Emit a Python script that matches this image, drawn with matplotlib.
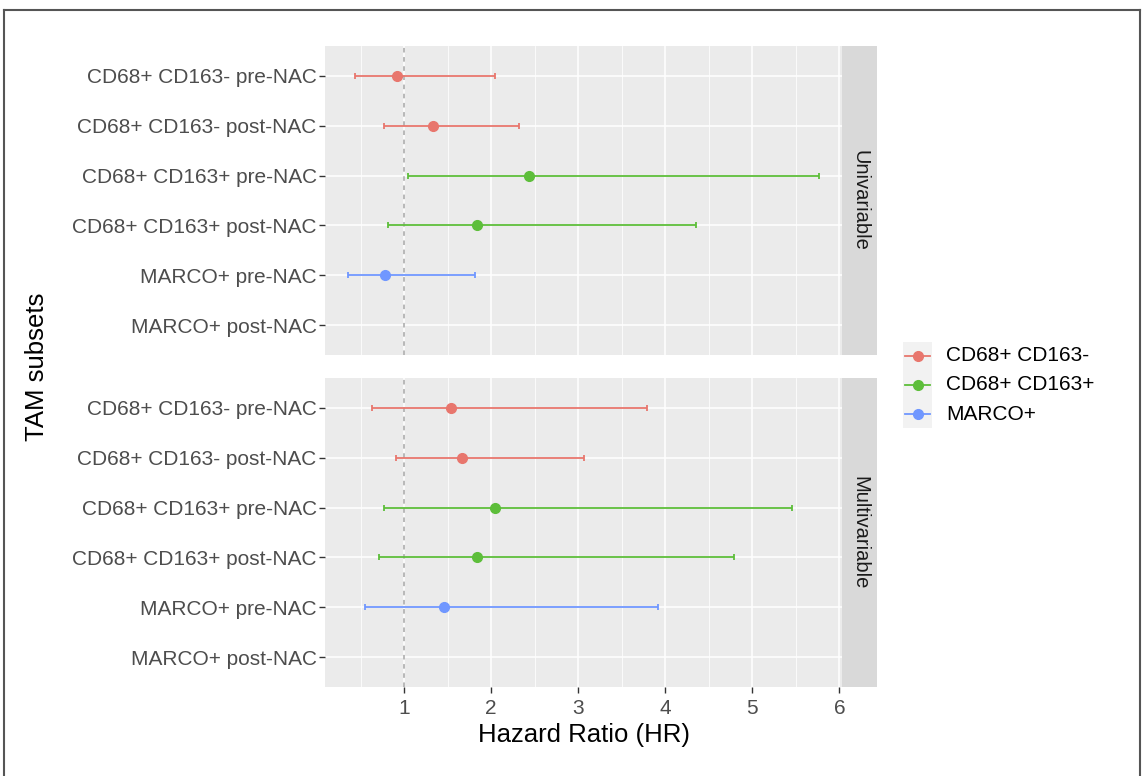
import numpy as np
import matplotlib
matplotlib.use("Agg")
import matplotlib.pyplot as plt
from matplotlib.lines import Line2D

plt.rcParams['font.family'] = ['Liberation Sans', 'DejaVu Sans']

# ---------------- data ----------------
subsets = ["CD68+ CD163- pre-NAC", "CD68+ CD163- post-NAC",
           "CD68+ CD163+ pre-NAC", "CD68+ CD163+ post-NAC",
           "MARCO+ pre-NAC", "MARCO+ post-NAC"]
groups = ["CD68+ CD163-", "CD68+ CD163-", "CD68+ CD163+",
          "CD68+ CD163+", "MARCO+", "MARCO+"]
legend_groups = ["CD68+ CD163-", "CD68+ CD163+", "MARCO+"]
group_colors = {"CD68+ CD163-": "#E8766D",
                "CD68+ CD163+": "#5DBE3A",
                "MARCO+": "#7097FF"}

panels = ["Univariable", "Multivariable"]

uni_hr = [0.92, 1.33, 2.43, 1.84, 0.78, np.nan]
uni_lo = [0.43, 0.77, 1.04, 0.81, 0.35, np.nan]
uni_hi = [2.04, 2.32, 5.77, 4.35, 1.81, np.nan]

multi_hr = [1.54, 1.66, 2.04, 1.84, 1.46, np.nan]
multi_lo = [0.63, 0.90, 0.77, 0.71, 0.55, np.nan]
multi_hi = [3.79, 3.06, 5.45, 4.79, 3.92, np.nan]

panel_data = {"Univariable": (uni_hr, uni_lo, uni_hi),
              "Multivariable": (multi_hr, multi_lo, multi_hi)}

x_ticks = [1, 2, 3, 4, 5, 6]
x_minor = [0.5, 1.5, 2.5, 3.5, 4.5, 5.5]
ref_line = 1.0

# ---------------- layout ----------------
W, H = 1144, 776
fig = plt.figure(figsize=(W / 100, H / 100), dpi=100)
fig.patch.set_facecolor("white")


def rect(x0, y0, x1, y1):
    return [x0 / W, 1 - y1 / H, (x1 - x0) / W, (y1 - y0) / H]


panel_x0, panel_x1, strip_x1 = 325, 842, 877
panel_rows = [(46, 355), (378, 687)]

TICK_FS = 15
TITLE_FS = 18.5
TEXT_COL = "#4D4D4D"

axes = []
for i, (pname, (y0, y1)) in enumerate(zip(panels, panel_rows)):
    ax = fig.add_axes(rect(panel_x0, y0, panel_x1, y1))
    ax.set_facecolor("#EBEBEB")
    for s in ax.spines.values():
        s.set_visible(False)
    hr, lo, hi = panel_data[pname]
    ypos = np.arange(len(subsets))
    ax.set_ylim(len(subsets) - 0.4, -0.6)
    ax.set_xlim(0.09, 6.03)
    ax.set_xticks(x_ticks)
    ax.set_xticks(x_minor, minor=True)
    ax.set_yticks(ypos)
    ax.set_yticklabels(subsets)
    ax.grid(True, which="major", color="white", linewidth=1.1)
    ax.grid(True, which="minor", axis="x", color="white", linewidth=0.55)
    ax.set_axisbelow(True)
    ax.tick_params(axis="both", which="major", length=4, width=1.0,
                   color="#333333", labelcolor=TEXT_COL, labelsize=TICK_FS)
    ax.tick_params(axis="y", pad=2)
    ax.tick_params(axis="x", pad=5)
    ax.tick_params(which="minor", length=0)
    if i == 0:
        ax.tick_params(axis="x", labelbottom=False, length=0)
    ax.axvline(ref_line, color="#A6A6A6", linestyle=(0, (3, 3)),
               linewidth=1.1, zorder=1.5)
    for j in range(len(subsets)):
        if np.isnan(hr[j]):
            continue
        c = group_colors[groups[j]]
        ax.errorbar([hr[j]], [ypos[j]],
                    xerr=[[hr[j] - lo[j]], [hi[j] - hr[j]]],
                    fmt="o", color=c, ecolor=c, elinewidth=1.3,
                    capsize=2.5, capthick=1.3, markersize=7, zorder=3)
    axes.append(ax)

    # facet strip
    sax = fig.add_axes(rect(panel_x1, y0, strip_x1, y1))
    sax.set_facecolor("#D9D9D9")
    sax.set_xticks([])
    sax.set_yticks([])
    for s in sax.spines.values():
        s.set_visible(False)
    sax.text(0.5, 0.5, pname, rotation=-90, ha="center", va="center",
             fontsize=14.5, color="#1A1A1A", transform=sax.transAxes)

# axis titles
fig.text((panel_x0 + panel_x1) / 2 / W, 1 - 735 / H, "Hazard Ratio (HR)",
         ha="center", va="center", fontsize=TITLE_FS, color="black")
fig.text(37 / W, 1 - 367 / H, "TAM subsets", rotation=90,
         ha="center", va="center", fontsize=TITLE_FS, color="black")

# legend
leg_x0, leg_x1 = 903, 932
row_y = [356, 385, 414]
lax = fig.add_axes(rect(leg_x0, 342, leg_x1, 428))
lax.set_xlim(leg_x0, leg_x1)
lax.set_ylim(428, 342)
lax.set_facecolor("#F2F2F2")
lax.set_xticks([])
lax.set_yticks([])
for s in lax.spines.values():
    s.set_visible(False)
for g, yy in zip(legend_groups, row_y):
    c = group_colors[g]
    lax.plot([leg_x0 + 2, leg_x1 - 2], [yy, yy], color=c, linewidth=1.3)
    lax.plot([(leg_x0 + leg_x1) / 2], [yy], "o", color=c, markersize=7)
    fig.text(946 / W, 1 - yy / H, g, ha="left", va="center",
             fontsize=TICK_FS, color="black")

# outer frame
frame_col = "#555555"
fig.add_artist(Line2D([4 / W, 4 / W], [0, 1 - 10 / H], color=frame_col,
                      linewidth=1.5, transform=fig.transFigure))
fig.add_artist(Line2D([1140 / W, 1140 / W], [0, 1 - 10 / H], color=frame_col,
                      linewidth=1.5, transform=fig.transFigure))
fig.add_artist(Line2D([4 / W, 1140 / W], [1 - 10 / H, 1 - 10 / H],
                      color=frame_col, linewidth=1.5,
                      transform=fig.transFigure))

fig.savefig("out.png", dpi=100)
